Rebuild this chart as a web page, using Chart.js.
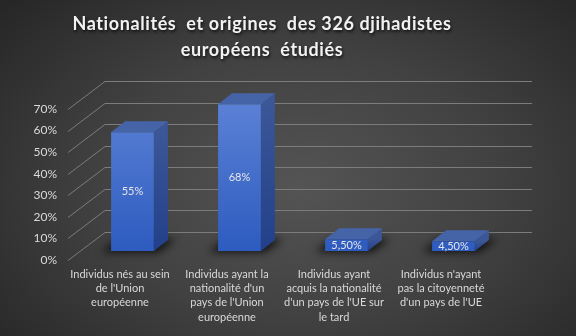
<!DOCTYPE html>
<html>
<head>
<meta charset="utf-8">
<script src="https://cdn.jsdelivr.net/npm/chart.js@4.4.1/dist/chart.umd.min.js"></script>
<style>
    html, body { margin: 0; padding: 0; }
    body {
        width: 576px; height: 336px; overflow: hidden;
        background: radial-gradient(ellipse 70% 80% at 52% 55%, #545454 0%, #414141 50%, #262626 100%);
    }
    canvas { display: block; }
</style>
</head>
<body>
<canvas id="chart" width="576" height="336"></canvas>
<script>
var titleLines = ['Nationalités  et origines  des 326 djihadistes', 'européens  étudiés'];
var categories = [
    ['Individus nés au sein', "de l'Union", 'européenne'],
    ['Individus ayant la', "nationalité d'un", "pays de l'Union", 'européenne'],
    ['Individus ayant', 'acquis la nationalité', "d'un pays de l'UE sur", 'le tard'],
    ["Individus n'ayant", 'pas la citoyenneté', "d'un pays de l'UE"]
];
var values = [55, 68, 5.5, 4.5];
var valueLabels = ['55%', '68%', '5,50%', '4,50%'];
var yTicks = [0, 10, 20, 30, 40, 50, 60, 70];

// décalages de la perspective (mur du fond / plan avant / profondeur des barres)
var BACK_DX = 26, BACK_DY = -19, FRONT_DX = -11, FRONT_DY = 9;
var DEPTH_X = 14, DEPTH_Y = -11;

var plugin3d = {
    id: 'plugin3d',
    beforeDatasetsDraw: function (chart) {
        var ctx = chart.ctx;
        var y = chart.scales.y;
        var area = chart.chartArea;
        ctx.save();
        ctx.strokeStyle = '#7c7c7c';
        ctx.lineWidth = 1;
        yTicks.forEach(function (v) {
            var py = Math.round(y.getPixelForValue(v)) + 0.5;
            ctx.beginPath();
            ctx.moveTo(area.left + FRONT_DX - 0, py + FRONT_DY);
            ctx.lineTo(area.left + BACK_DX, py + BACK_DY);
            ctx.lineTo(532, py + BACK_DY);
            ctx.stroke();
        });
        // ombres au sol
        ctx.filter = 'blur(4px)';
        ctx.fillStyle = 'rgba(0,0,0,0.8)';
        chart.getDatasetMeta(0).data.forEach(function (bar) {
            var p = bar.getProps(['x', 'base', 'width'], true);
            var x0 = p.x - p.width / 2, x1 = p.x + p.width / 2;
            ctx.beginPath();
            ctx.moveTo(x0 - 10, p.base + 1);
            ctx.lineTo(x1 + 4, p.base + 1);
            ctx.lineTo(x1 + DEPTH_X + 8, p.base + DEPTH_Y - 1);
            ctx.lineTo(x0 + DEPTH_X - 6, p.base + DEPTH_Y - 1);
            ctx.closePath();
            ctx.fill();
        });
        ctx.restore();
    },
    afterDatasetsDraw: function (chart) {
        var ctx = chart.ctx;
        ctx.save();
        chart.getDatasetMeta(0).data.forEach(function (bar, i) {
            var p = bar.getProps(['x', 'y', 'base', 'width'], true);
            var x0 = p.x - p.width / 2, x1 = p.x + p.width / 2;
            var side = ctx.createLinearGradient(0, p.y, 0, p.base);
            side.addColorStop(0, '#3b5798');
            side.addColorStop(1, '#22408a');
            ctx.fillStyle = side;
            ctx.beginPath();
            ctx.moveTo(x1, p.y);
            ctx.lineTo(x1 + DEPTH_X, p.y + DEPTH_Y);
            ctx.lineTo(x1 + DEPTH_X, p.base + DEPTH_Y);
            ctx.lineTo(x1, p.base);
            ctx.closePath();
            ctx.fill();
            ctx.fillStyle = '#4564a8';
            ctx.beginPath();
            ctx.moveTo(x0, p.y);
            ctx.lineTo(x0 + DEPTH_X, p.y + DEPTH_Y);
            ctx.lineTo(x1 + DEPTH_X, p.y + DEPTH_Y);
            ctx.lineTo(x1, p.y);
            ctx.closePath();
            ctx.fill();
            ctx.fillStyle = '#e6e6e6';
            ctx.font = '11px Lato';
            ctx.textAlign = 'center';
            ctx.textBaseline = 'middle';
            ctx.fillText(valueLabels[i], p.x, (p.y + p.base) / 2);
        });
        // titre
        ctx.font = 'bold 18px Lato';
        ctx.letterSpacing = '0.6px';
        ctx.textAlign = 'center';
        ctx.textBaseline = 'middle';
        ctx.fillStyle = '#f2f2f2';
        ctx.shadowColor = 'rgba(0,0,0,0.7)';
        ctx.shadowBlur = 3;
        ctx.shadowOffsetX = 1;
        ctx.shadowOffsetY = 2;
        ctx.fillText(titleLines[0], 262, 24);
        ctx.fillText(titleLines[1], 262, 50);
        ctx.restore();
    }
};

new Chart(document.getElementById('chart'), {
    type: 'bar',
    data: {
        labels: categories,
        datasets: [{
            data: values,
            backgroundColor: function (c) {
                var area = c.chart.chartArea;
                if (!area) return '#4472c4';
                var g = c.chart.ctx.createLinearGradient(0, area.top, 0, area.bottom);
                g.addColorStop(0, '#5c82d6');
                g.addColorStop(1, '#2d5bbf');
                return g;
            },
            borderWidth: 0,
            categoryPercentage: 1,
            barPercentage: 0.4
        }]
    },
    options: {
        responsive: false,
        animation: false,
        layout: { padding: { top: 100, right: 69, bottom: 0, left: 0 } },
        plugins: {
            legend: { display: false },
            tooltip: { enabled: false }
        },
        scales: {
            x: {
                grid: { display: false, drawTicks: false },
                border: { display: false },
                afterFit: function (s) { s.height = 85; },
                ticks: {
                    color: '#d9d9d9',
                    font: { family: 'Lato', size: 11, lineHeight: 1.3 },
                    padding: 16,
                    labelOffset: -12.5,
                    maxRotation: 0,
                    autoSkip: false
                }
            },
            y: {
                min: 0,
                max: 70,
                grid: { display: false, drawTicks: false },
                border: { display: false },
                afterFit: function (s) { s.width = 79; },
                ticks: {
                    stepSize: 10,
                    color: '#d9d9d9',
                    font: { family: 'Lato', size: 12 },
                    padding: 22,
                    labelOffset: 9,
                    callback: function (v) { return v + '%'; }
                }
            }
        }
    },
    plugins: [plugin3d]
});
</script>
</body>
</html>
